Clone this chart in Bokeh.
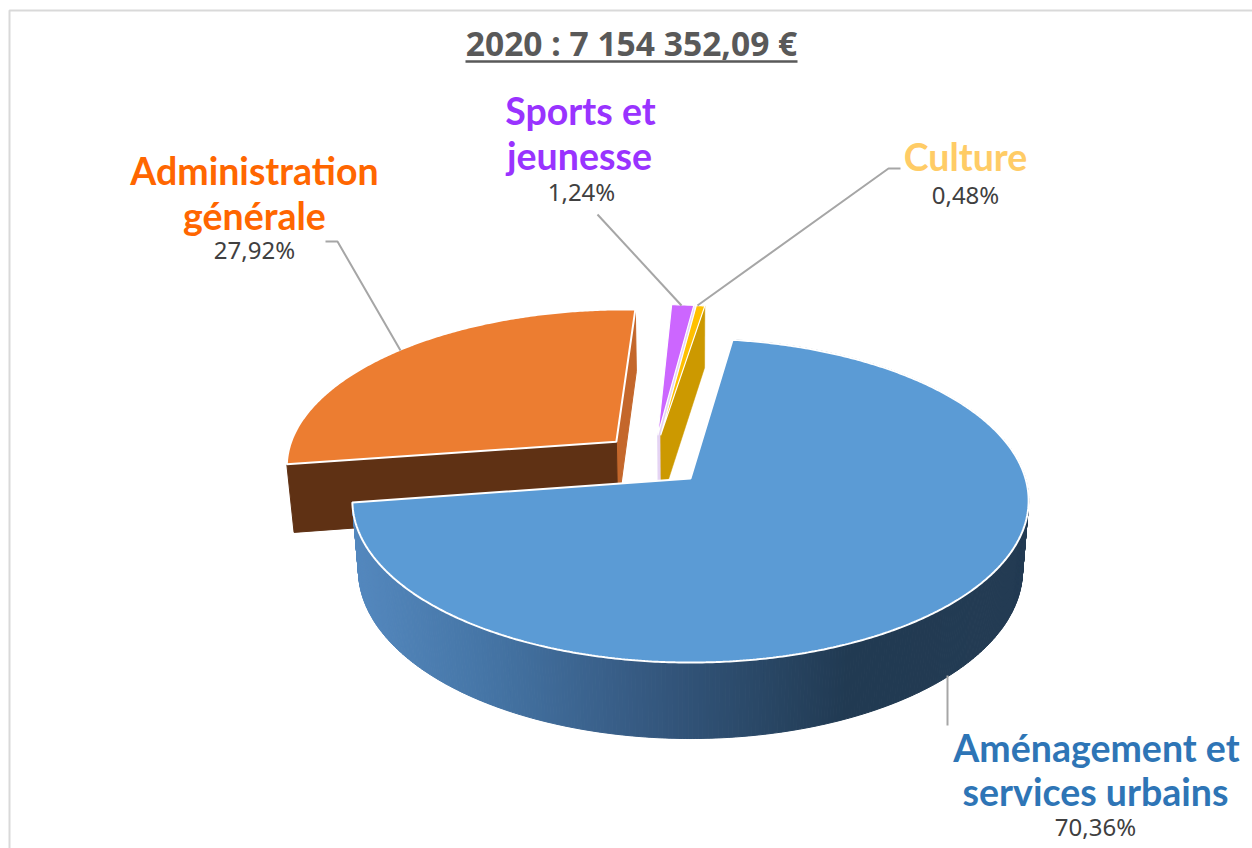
import numpy as np
from bokeh.plotting import figure
from bokeh.models import Range1d
from bokeh.core.properties import value
from bokeh.embed import file_html
from bokeh.resources import INLINE

# ---- data ----
categories = ["Aménagement et services urbains", "Administration générale", "Sports et jeunesse", "Culture"]
shares = [70.36, 27.92, 1.24, 0.48]
pct_labels = ["70,36%", "27,92%", "1,24%", "0,48%"]
title_text = "2020 : 7 154 352,09 €"

# ---- style / layout ----
W, H = 1252, 848
FONT = "Noto Sans"
LABEL_FONT = "Lato"
LABEL_SIZE = 37.5
top_colors = ["#5b9bd5", "#ec7d31", "#cc66ff", "#ffc000"]
start_deg = 81.8
explode = 0.162
slice_nudge = [(0, 0), (2.5, -2.5), (0.5, -1), (0.5, -1)]
XC, YC, RX, RY, PERSP = 690.0, 478.0, 335.0, 159.0, 0.136
blue_stops_x = [355, 480, 640, 850, 1030]
blue_stops_rgb = [(84, 136, 190), (70, 118, 167), (54, 90, 130), (33, 58, 82), (36, 60, 84)]

p = figure(width=W, height=H, x_range=Range1d(0, W), y_range=Range1d(H, 0),
           toolbar_location=None, output_backend="svg", min_border=0,
           background_fill_color="white", border_fill_color="white", outline_line_color=None)
p.xaxis.visible = False
p.yaxis.visible = False
p.grid.visible = False

# frame of the chart area
p.line([9, 9, W], [H, 10, 10], line_color="#d9d9d9", line_width=2)

# ---- pie geometry, all derived from the shares ----
fr = np.array(shares) / sum(shares)
ang_ends = start_deg - 360 * np.cumsum(fr)
ang_starts = ang_ends + 360 * fr
mids = (ang_starts + ang_ends) / 2
# pie centre chosen so the largest slice's apex sits at the projection centre
pu = -explode * np.cos(np.radians(mids[0]))
pv = -explode * np.sin(np.radians(mids[0]))


def project(u, v):
    w = 1 + PERSP * np.asarray(v, float)
    return XC + RX * np.asarray(u, float) / w, YC - RY * np.asarray(v, float) / w


def lower(x, y):
    x = np.asarray(x, float)
    y = np.asarray(y, float)
    return XC + (x - XC) * 0.982, y + 68 + (y - 462) * 0.04


def slice_pts(i):
    a0 = pu + explode * np.cos(np.radians(mids[i]))
    b0 = pv + explode * np.sin(np.radians(mids[i]))
    n = max(8, int(abs(ang_starts[i] - ang_ends[i]) * 2))
    th = np.radians(np.linspace(ang_starts[i], ang_ends[i], n))
    ax, ay = project(a0, b0)
    ex, ey = project(a0 + np.cos(th), b0 + np.sin(th))
    dx, dy = slice_nudge[i]
    return float(ax) + dx, float(ay) + dy, ex + dx, ey + dy


def wall(ax, ay, ex, ey, color, line=None, lw=1.0):
    bx0, by0 = lower(ax, ay)
    bx1, by1 = lower(ex, ey)
    p.patch([ax, ex, bx1, bx0], [ay, ey, by1, by0], fill_color=color,
            line_color=line or color, line_width=lw)


def face(i, lc="white", lw=2.0):
    ax, ay, ex, ey = slice_pts(i)
    p.patch(np.r_[ax, ex], np.r_[ay, ey], fill_color=top_colors[i], line_color=lc, line_width=lw)


# Administration générale: two radial walls then top
ax, ay, ex, ey = slice_pts(1)
wall(ax, ay, ex[-1], ey[-1], "#c4672b")
wall(ax, ay, ex[0], ey[0], "#5f3114")
face(1)

# Sports et jeunesse
ax, ay, ex, ey = slice_pts(2)
wall(ax, ay, ex[-1], ey[-1], "#e4d3f3", line="#e4d3f3", lw=1.2)
face(2, lw=1.2)

# Culture
ax, ay, ex, ey = slice_pts(3)
wall(ax, ay, ex[-1], ey[-1], "#cc9900", line="#cc9900", lw=0.5)
face(3, lw=1.2)

# Aménagement: rim with a horizontal shading, then top
ax, ay, ex, ey = slice_pts(0)
bx, by = lower(ex, ey)
mx = (ex[:-1] + ex[1:]) / 2
rgb = np.array(blue_stops_rgb, float)
cols = ["#%02x%02x%02x" % tuple(int(np.interp(m, blue_stops_x, rgb[:, k])) for k in range(3)) for m in mx]
xs = [[ex[k], ex[k + 1], bx[k + 1], bx[k]] for k in range(len(mx))]
ys = [[ey[k], ey[k + 1], by[k + 1], by[k]] for k in range(len(mx))]
p.patches(xs, ys, fill_color=cols, line_color=cols, line_width=1)
face(0)

# leader lines
leader_x = [[325, 337, 400], [597, 681], [900, 888, 697], [947, 947]]
leader_y = [[241, 241, 350], [214, 305], [168, 168, 305], [675, 725]]
p.multi_line(leader_x, leader_y, line_color="#a6a6a6", line_width=2)


def txt(x, y, s, size, color, style="normal", font=FONT):
    p.text([x], [y], text=[s], text_font=value(font), text_font_size=f"{size}px", text_color=color,
           text_align="center", text_baseline="middle", text_font_style=style)


# title
txt(631, 42, title_text, 33.6, "#595959", "bold")
p.line([465, 797], [61, 61], line_color="#595959", line_width=2.5)

# category labels and percentages
txt(254, 170, "Administration", LABEL_SIZE, "#ff6600", "bold", LABEL_FONT)
txt(254, 215, "générale", LABEL_SIZE, "#ff6600", "bold", LABEL_FONT)
txt(254, 249, pct_labels[1], 24, "#404040")
txt(580, 110, "Sports et", LABEL_SIZE, "#9933ff", "bold", LABEL_FONT)
txt(579, 155, "jeunesse", LABEL_SIZE, "#9933ff", "bold", LABEL_FONT)
txt(581, 191, pct_labels[2], 24, "#404040")
txt(965, 156, categories[3], LABEL_SIZE, "#ffcc66", "bold", LABEL_FONT)
txt(965, 194, pct_labels[3], 24, "#404040")
txt(1096, 747, "Aménagement et", LABEL_SIZE, "#2e75b6", "bold", LABEL_FONT)
txt(1095, 791, "services urbains", LABEL_SIZE, "#2e75b6", "bold", LABEL_FONT)
txt(1095, 826, pct_labels[0], 24, "#404040")

open("out.html", "w").write(file_html(p, INLINE))
